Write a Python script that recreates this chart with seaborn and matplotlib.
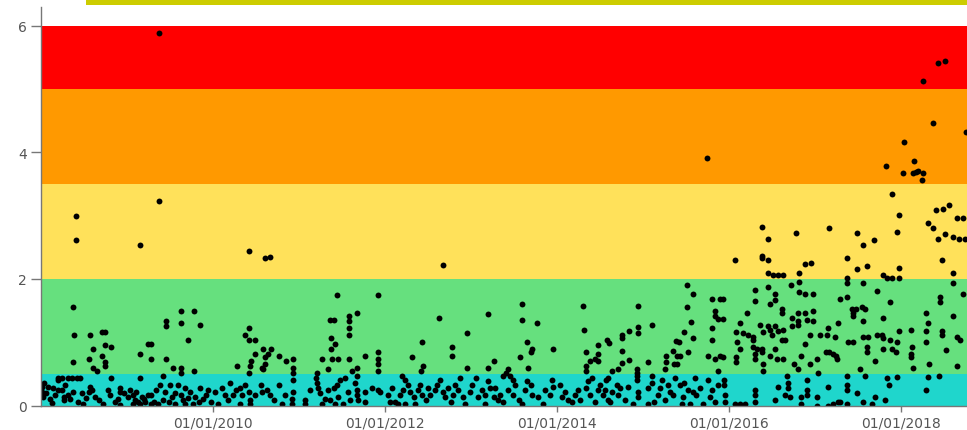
import numpy as np
import pandas as pd
import matplotlib
matplotlib.use("Agg")
import matplotlib.pyplot as plt
import matplotlib.dates as mdates
from matplotlib.patches import Rectangle
import seaborn as sns

# ---------------- data (decimal year, measured value) ----------------
years_2008 = [2008.37,2008.38,2008.57,2008.71,2008.74,2008.60,2008.74,2008.81,2008.56,2008.70,
              2008.74,2008.74,2008.37,2008.60,2008.65,2008.40,2008.40,2008.20,2008.20,2008.24,
              2008.31,2008.36,2008.41,2008.45,2008.01,2008.01,2008.02,2008.08,2008.14,2008.19,
              2008.24,2008.16,2008.26,2008.26,2008.37,2008.57,2008.56,2008.59,2008.49,2008.72,
              2008.81,2008.92,2008.92,2008.92,2008.03,2008.10,2008.31,2008.43,2008.63,2008.80,
              2008.86,2008.05,2008.12,2008.28,2008.33,2008.47,2008.52,2008.67,2008.77,2008.89,
              2008.96]
values_2008 = [1.56,1.12,1.11,1.16,1.16,0.89,0.95,0.92,0.74,0.78,
               0.68,0.62,0.68,0.60,0.55,2.99,2.61,0.44,0.40,0.44,
               0.43,0.43,0.43,0.43,0.30,0.22,0.13,0.30,0.27,0.25,
               0.25,0.16,0.13,0.08,0.21,0.30,0.21,0.25,0.02,0.02,
               0.43,0.28,0.21,0.01,0.35,0.10,0.17,0.06,0.13,0.16,
               0.05,0.19,0.04,0.33,0.10,0.20,0.12,0.08,0.24,0.10,
               0.19]

years_2009 = [2009.15,2009.24,2009.15,2009.03,2009.06,2009.09,2009.12,2009.15,2009.17,2009.21,
              2009.24,2009.27,2009.07,2009.01,2009.15,2009.37,2009.37,2009.63,2009.78,2009.45,
              2009.45,2009.63,2009.85,2009.28,2009.70,2009.28,2009.45,2009.53,2009.63,2009.63,
              2009.78,2009.41,2009.28,2009.33,2009.38,2009.44,2009.42,2009.50,2009.52,2009.59,
              2009.62,2009.65,2009.67,2009.73,2009.79,2009.85,2009.91,2009.97,2009.83,2009.56,
              2009.67,2009.76,2009.36,2009.48,2009.10,2009.19,2009.31,2009.55,2009.70,2009.88,
              2009.94]
values_2009 = [0.81,0.97,0.44,0.25,0.17,0.09,0.05,0.02,0.13,0.06,
               0.17,0.02,0.02,0.13,2.53,3.24,5.89,1.50,1.49,1.33,
               1.25,1.31,1.28,0.98,1.03,0.74,0.74,0.60,0.60,0.51,
               0.55,0.47,0.17,0.25,0.32,0.21,0.09,0.32,0.13,0.32,
               0.17,0.09,0.28,0.22,0.13,0.28,0.17,0.05,0.05,0.02,
               0.02,0.03,0.03,0.06,0.21,0.10,0.06,0.20,0.12,0.10,
               0.24]

years_2010 = [2010.42,2010.60,2010.66,2010.42,2010.37,2010.42,2010.49,2010.48,2010.44,2010.43,
              2010.28,2010.42,2010.58,2010.58,2010.67,2010.64,2010.77,2010.60,2010.60,2010.57,
              2010.85,2010.93,2010.93,2010.93,2010.02,2010.14,2010.17,2010.23,2010.27,2010.31,
              2010.34,2010.37,2010.41,2010.43,2010.49,2010.55,2010.57,2010.06,2010.31,2010.43,
              2010.76,2010.62,2010.66,2010.80,2010.93,2010.93,2010.92,2010.92,2010.10,2010.20,
              2010.71,2010.84]
values_2010 = [2.44,2.33,2.34,1.23,1.11,1.03,1.03,0.81,0.70,0.62,
               0.63,0.52,0.90,0.57,0.89,0.81,0.78,0.76,0.65,0.60,
               0.71,0.73,0.59,0.52,0.22,0.17,0.09,0.16,0.25,0.28,
               0.17,0.33,0.22,0.09,0.16,0.33,0.21,0.03,0.03,0.02,
               0.33,0.25,0.17,0.02,0.40,0.22,0.11,0.02,0.28,0.36,
               0.09,0.17]

years_2011 = [2011.44,2011.67,2011.58,2011.58,2011.58,2011.58,2011.36,2011.40,2011.37,2011.42,
              2011.37,2011.27,2011.38,2011.45,2011.58,2011.62,2011.77,2011.92,2011.92,2011.92,
              2011.92,2011.33,2011.21,2011.67,2011.67,2011.92,2011.19,2011.21,2011.22,2011.24,
              2011.30,2011.27,2011.36,2011.42,2011.45,2011.34,2011.40,2011.44,2011.48,2011.53,
              2011.65,2011.67,2011.67,2011.69,2011.07,2011.07,2011.77,2011.77,2011.85,2011.92,
              2011.57,2011.59,2011.13,2011.51]
values_2011 = [1.74,1.46,1.42,1.33,1.23,1.11,1.35,1.35,1.06,0.98,
               0.89,0.73,0.73,0.73,0.73,0.54,0.78,0.84,0.73,0.65,
               0.55,0.57,0.52,0.60,0.47,1.74,0.44,0.36,0.28,0.19,
               0.11,0.02,0.09,0.02,0.13,0.25,0.28,0.33,0.41,0.44,
               0.36,0.25,0.17,0.09,0.09,0.02,0.05,0.21,0.28,0.25,
               0.22,0.09,0.25,0.03]

years_2012 = [2012.62,2012.95,2012.43,2012.78,2012.78,2012.31,2012.44,2012.42,2012.95,2012.67,
              2012.20,2012.23,2012.27,2012.21,2012.17,2012.29,2012.33,2012.38,2012.41,2012.43,
              2012.47,2012.15,2012.06,2012.03,2011.94,2012.12,2012.23,2012.50,2012.52,2012.58,
              2012.60,2012.64,2012.67,2012.70,2012.73,2012.76,2012.79,2012.81,2012.85,2012.87,
              2012.90,2012.93,2012.99,2012.08,2012.35]
values_2012 = [1.39,1.14,1.00,0.92,0.79,0.76,0.62,0.54,0.59,2.22,
               0.47,0.41,0.33,0.25,0.17,0.21,0.13,0.25,0.33,0.17,
               0.09,0.02,0.06,0.16,0.21,0.05,0.02,0.28,0.17,0.25,
               0.33,0.41,0.21,0.13,0.28,0.05,0.17,0.33,0.25,0.44,
               0.13,0.02,0.21,0.28,0.03]

years_2013 = [2013.19,2013.19,2013.26,2013.59,2013.59,2013.76,2013.65,2013.69,2013.71,2013.57,
              2013.95,2013.66,2013.43,2013.40,2013.45,2013.37,2013.48,2013.51,2013.01,2013.05,
              2013.08,2013.13,2013.16,2013.20,2013.22,2013.26,2013.16,2013.28,2013.34,2013.31,
              2013.37,2013.43,2013.48,2013.55,2013.63,2013.69,2013.71,2013.78,2013.86,2013.92,
              2013.94,2013.95,2013.65,2013.59,2013.84]
values_2013 = [1.44,0.59,0.71,1.60,1.35,1.30,1.00,0.85,0.89,0.76,
               0.90,0.60,0.57,0.51,0.47,0.46,0.41,0.33,0.33,0.44,
               0.13,0.25,0.16,0.38,0.28,0.13,0.02,0.28,0.17,0.09,
               0.05,0.25,0.17,0.09,0.25,0.33,0.17,0.13,0.25,0.17,
               0.41,0.30,0.38,0.03,0.03]

years_2014 = [2014.30,2014.31,2014.34,2014.48,2014.48,2014.58,2014.38,2014.44,2014.48,2014.33,
              2014.33,2014.94,2014.76,2014.76,2014.84,2014.94,2014.94,2014.60,2014.76,2014.84,
              2014.76,2014.64,2014.71,2014.93,2014.93,2014.03,2014.06,2014.09,2014.13,2014.17,
              2014.21,2014.24,2014.27,2014.33,2014.36,2014.38,2014.41,2014.44,2014.48,2014.50,
              2014.53,2014.57,2014.59,2014.59,2014.70,2014.73,2014.56,2014.64,2014.71,2014.62,
              2014.83,2014.93,2014.93,2014.94,2014.94,2015.06,2015.10,2015.10,2015.06,2015.13,
              2014.88,2014.79]
values_2014 = [1.58,1.19,0.84,0.81,0.95,1.04,0.70,0.73,0.70,0.62,
               0.54,1.58,1.12,1.07,1.18,1.24,1.15,0.99,0.86,0.72,
               0.67,0.54,0.57,0.58,0.52,0.33,0.13,0.21,0.09,0.05,
               0.17,0.25,0.09,0.28,0.38,0.17,0.44,0.05,0.25,0.33,
               0.17,0.41,0.09,0.44,0.33,0.28,0.25,0.21,0.16,0.06,
               0.30,0.46,0.41,0.21,0.13,0.28,0.46,0.36,0.02,0.05,
               0.02,0.09]

years_2015 = [2015.74,2015.51,2015.58,2015.51,2015.80,2015.90,2015.84,2015.84,2015.87,2015.56,
              2015.10,2015.80,2015.48,2015.58,2015.80,2015.38,2015.42,2015.35,2015.52,2015.39,
              2015.43,2015.27,2015.27,2015.06,2015.36,2015.40,2015.76,2015.84,2015.90,2015.87,
              2015.26,2015.93,2015.93,2015.93,2015.94,2015.94,2015.95,2015.95,2015.22,2015.29,
              2015.31,2015.26,2015.37,2015.35,2015.43,2015.47,2015.48,2015.52,2015.55,2015.45,
              2015.60,2015.62,2015.66,2015.70,2015.76,2015.78,2015.80,2015.84,2015.87,2015.17,
              2015.20,2015.58]
values_2015 = [3.92,1.91,1.76,1.55,1.68,1.69,1.49,1.41,1.36,1.32,
               1.28,1.23,1.16,1.07,1.04,1.02,1.00,0.86,0.84,0.79,
               0.79,0.78,0.68,0.68,0.66,0.66,0.79,0.74,0.78,0.54,
               0.57,1.69,1.36,0.76,0.41,0.33,0.16,0.06,0.41,0.33,
               0.21,0.09,0.44,0.17,0.33,0.13,0.36,0.25,0.03,0.03,
               0.44,0.17,0.28,0.03,0.41,0.14,0.25,0.05,0.32,0.17,
               0.28,0.22]

years_2016 = [2016.07,2016.38,2016.45,2016.78,2016.38,2016.38,2016.45,2016.88,2016.95,2016.45,
              2016.51,2016.57,2016.63,2016.81,2016.81,2016.72,2016.45,2016.30,2016.30,2016.53,
              2016.53,2016.81,2016.88,2016.97,2016.47,2016.62,2016.62,2016.21,2016.13,2016.36,
              2016.45,2016.53,2016.63,2016.73,2016.80,2016.88,2016.97,2016.73,2016.80,2016.80,
              2016.90,2016.98,2016.08,2016.09,2016.16,2016.22,2016.28,2016.28,2016.40,2016.47,
              2016.50,2016.57,2016.62,2016.65,2016.94,2016.13,2016.28,2016.33,2016.38,2016.53,
              2016.88,2016.08,2016.08,2016.30,2016.30,2016.38,2016.48,2016.56,2016.63,2016.83,
              2016.40,2016.40,2016.76,2016.80,2016.94,2016.67,2016.68,2016.68,2016.57,2016.91,
              2016.91,2016.91,2016.30,2016.30,2016.30,2016.65,2016.71,2016.83,2016.83,2016.07,
              2016.13,2016.19,2016.53]
values_2016 = [2.30,2.82,2.64,2.72,2.37,2.33,2.30,2.23,2.26,2.09,
               2.07,2.07,2.07,2.09,1.95,1.91,1.87,1.82,1.65,1.76,
               1.66,1.80,1.77,1.76,1.60,1.53,1.47,1.47,1.31,1.28,
               1.25,1.25,1.20,1.39,1.47,1.47,1.49,1.25,1.27,1.33,
               1.35,1.33,1.16,1.01,1.14,1.12,1.09,1.03,1.16,1.20,
               1.12,1.17,1.04,1.04,1.11,0.90,0.92,0.89,0.90,0.90,
               0.97,0.76,0.68,0.81,0.74,0.84,0.78,0.73,0.73,0.78,
               0.65,0.54,0.65,0.57,0.65,0.46,0.36,0.28,0.30,0.41,
               0.25,0.17,0.25,0.16,0.06,0.16,0.13,0.14,0.02,0.02,
               0.02,0.03,0.09]

years_2017_18 = [2018.43,2018.51,2018.26,2018.37,2018.76,2018.03,2017.83,2018.15,2018.02,2018.14,
                 2018.17,2018.20,2018.26,2018.24,2017.90,2017.97,2018.41,2018.49,2018.56,2018.65,
                 2018.72,2018.31,2018.37,2018.43,2018.51,2018.60,2018.67,2018.74,2017.95,2017.69,
                 2017.49,2017.56,2017.16,2017.37,2017.49,2017.60,2017.98,2018.48,2017.37,2017.79,
                 2017.84,2017.90,2017.97,2018.60,2017.37,2017.56,2018.60,2017.72,2017.37,2017.87,
                 2018.45,2018.45,2018.72,2017.43,2017.47,2017.44,2017.44,2017.55,2017.58,2017.56,
                 2017.79,2018.29,2018.31,2018.60,2017.29,2017.97,2018.12,2018.29,2018.48,2018.48,
                 2018.65,2018.69,2017.72,2017.78,2017.79,2017.56,2017.62,2017.38,2017.44,2017.87,
                 2017.95,2018.29,2017.60,2017.60,2017.79,2017.90,2017.94,2018.13,2018.12,2018.12,
                 2018.52,2017.70,2018.33,2018.14,2018.65,2017.52,2017.02,2017.13,2017.16,2017.21,
                 2017.24,2017.25,2017.06,2017.14,2017.23,2017.15,2017.26,2017.03,2017.15,2017.37,
                 2017.58,2017.84,2017.86,2017.95,2018.31,2018.44,2017.37,2017.37,2018.29,2017.49,
                 2017.70,2017.81,2017.29,2017.37,2017.56,2017.66,2017.02,2017.02,2017.15,2017.21,
                 2017.27]
values_2017_18 = [5.41,5.44,5.13,4.46,4.32,4.16,3.78,3.86,3.67,3.67,
                  3.69,3.71,3.67,3.56,3.34,3.01,3.09,3.10,3.17,2.97,
                  2.97,2.89,2.80,2.63,2.71,2.67,2.63,2.64,2.75,2.61,
                  2.73,2.53,2.80,2.33,2.16,2.20,2.18,2.30,2.02,2.07,
                  2.02,2.02,2.02,2.09,1.94,1.94,1.93,1.81,1.72,1.63,
                  1.72,1.63,1.76,1.52,1.53,1.47,1.41,1.55,1.53,1.33,
                  1.39,1.46,1.31,1.41,1.68,1.17,1.19,1.17,1.17,1.12,
                  1.08,1.03,1.11,1.12,1.06,1.08,1.09,1.01,1.01,1.03,
                  1.00,1.01,0.93,0.85,0.90,0.89,0.85,0.92,0.81,0.76,
                  0.87,0.71,0.66,0.60,0.62,0.57,0.73,0.84,0.85,0.81,
                  0.78,0.73,1.12,1.12,1.09,1.23,1.30,0.51,0.30,0.46,
                  0.46,0.43,0.33,0.45,0.45,0.46,0.33,0.25,0.24,0.19,
                  0.14,0.09,0.05,0.02,0.05,0.02,0.14,0.00,0.00,0.02,
                  0.05]

# band thresholds and colours (low -> high)
band_edges = [0, 0.5, 2, 3.5, 5, 6]
band_colors = ["#1fd6cc", "#66e07e", "#ffe15a", "#ff9900", "#ff0000"]

tick_years = [2010, 2012, 2014, 2016, 2018]

# ---------------- build frame ----------------
all_years = []
all_vals = []
for ys, vs in [(years_2008, values_2008), (years_2009, values_2009), (years_2010, values_2010),
               (years_2011, values_2011), (years_2012, values_2012), (years_2013, values_2013),
               (years_2014, values_2014), (years_2015, values_2015), (years_2016, values_2016),
               (years_2017_18, values_2017_18)]:
    n = min(len(ys), len(vs))
    all_years += ys[:n]
    all_vals += vs[:n]


def dec_to_date(y):
    yr = int(y)
    start = pd.Timestamp(yr, 1, 1)
    end = pd.Timestamp(yr + 1, 1, 1)
    return start + (end - start) * (y - yr)


df = pd.DataFrame({"date": [dec_to_date(y) for y in all_years], "value": all_vals})

# ---------------- plot ----------------
W, H = 967, 431
fig = plt.figure(figsize=(W / 100, H / 100), dpi=100)
fig.patch.set_facecolor("white")

left_px, bottom_px, top_px = 40.5, 406.5, 8.0
ax = fig.add_axes([left_px / W, (H - bottom_px) / H, (W - left_px) / W, (bottom_px - top_px) / H])
ax.set_facecolor("white")

for lo, hi, c in zip(band_edges[:-1], band_edges[1:], band_colors):
    ax.axhspan(lo, hi, color=c, lw=0, zorder=0)

sns.scatterplot(data=df, x="date", y="value", ax=ax, color="black", s=18,
                linewidth=0, zorder=3, legend=False)

ax.set_ylim(0, 6.3)
ax.set_xlim(pd.Timestamp(2007, 12, 29), pd.Timestamp(2018, 10, 8))

ax.set_yticks([0, 2, 4, 6])
ax.set_xticks([pd.Timestamp(y, 1, 1) for y in tick_years])
ax.xaxis.set_major_formatter(mdates.DateFormatter("%m/%d/%Y"))
ax.set_xlabel("")
ax.set_ylabel("")

for side in ["top", "right"]:
    ax.spines[side].set_visible(False)
for side in ["left", "bottom"]:
    ax.spines[side].set_color("#777777")
    ax.spines[side].set_linewidth(1.0)
    ax.spines[side].set_zorder(4)

ax.tick_params(axis="both", colors="#777777", labelcolor="#555555", labelsize=10,
               length=4, width=1, direction="out")
ax.tick_params(axis="y", length=7, pad=3)
ax.tick_params(axis="x", length=4, pad=3)

# olive banner at the very top
fig.patches.append(Rectangle((86 / W, (H - 6) / H), (W - 86) / W, 6 / H,
                             transform=fig.transFigure, facecolor="#cccc00",
                             edgecolor="none", zorder=5))

fig.savefig("out.png", dpi=100)
